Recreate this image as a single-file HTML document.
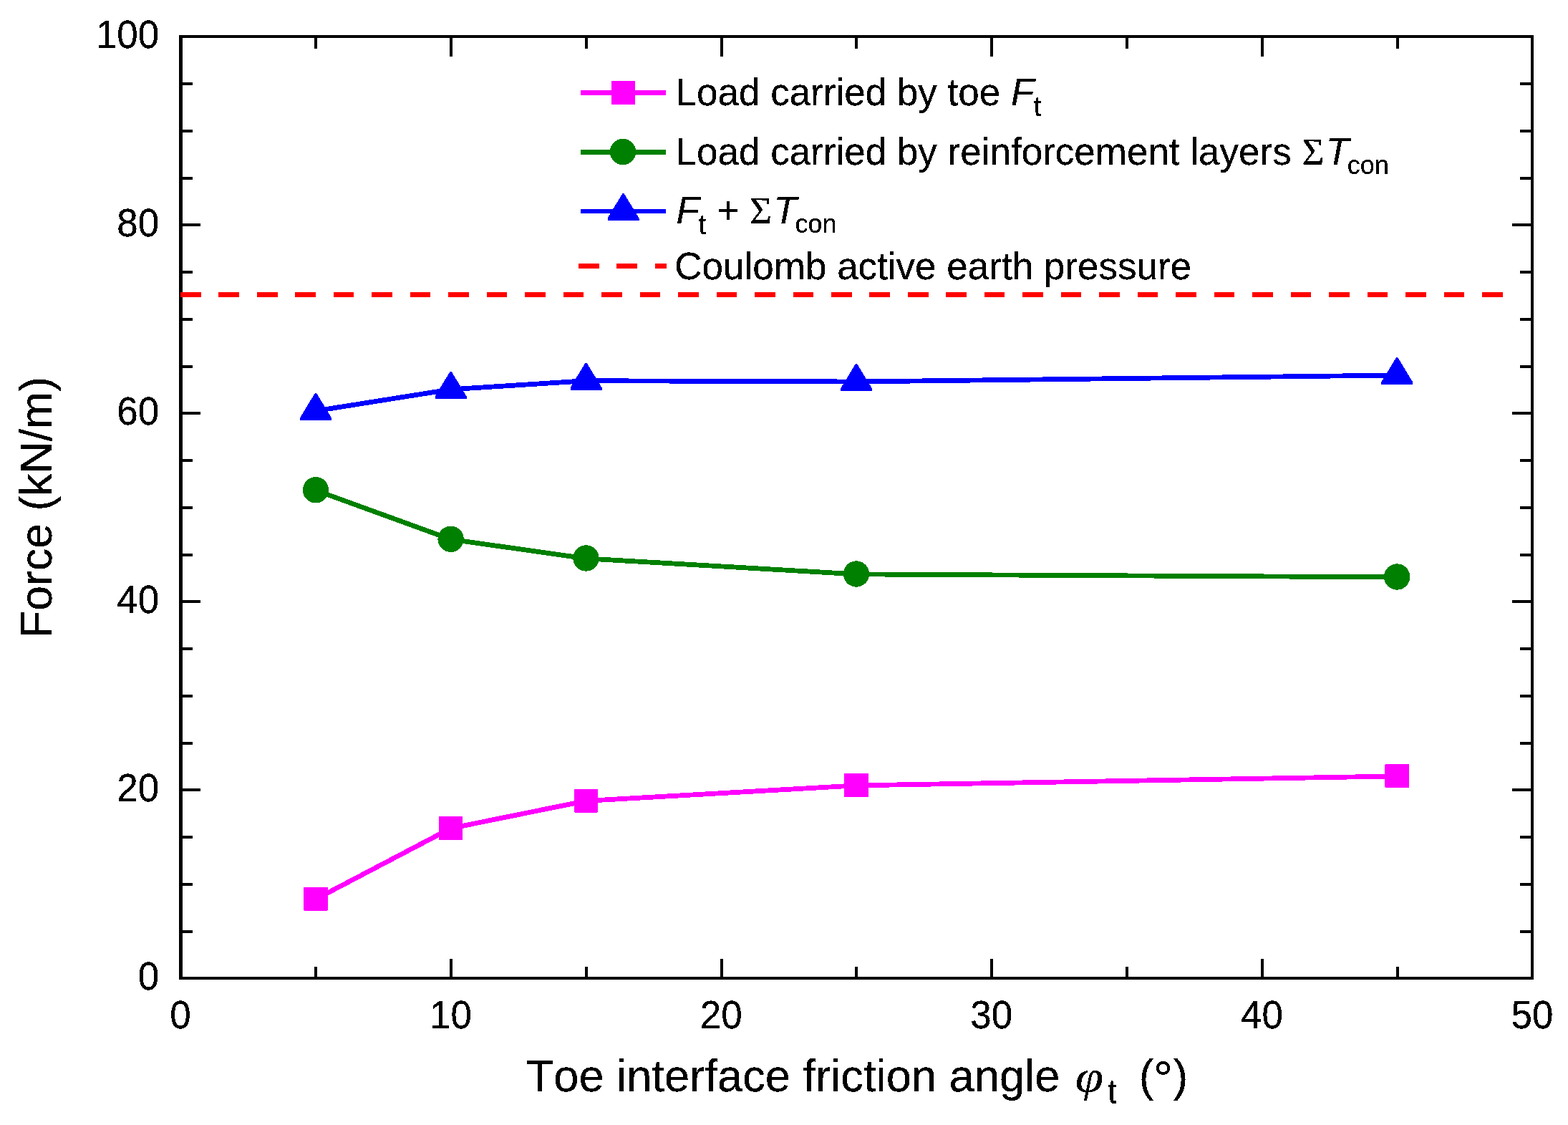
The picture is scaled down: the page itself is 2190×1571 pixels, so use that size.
<!DOCTYPE html>
<html lang="en">
<head>
<meta charset="utf-8">
<title>Force vs toe interface friction angle</title>
<style>
html,body{margin:0;padding:0;background:#fff;}
body{width:2190px;height:1571px;}
svg{display:block;}
text{font-family:"Liberation Sans",Arial,Helvetica,sans-serif;fill:#000;font-kerning:none;font-variant-ligatures:none;}
.tk{font-size:53px;}
.ti{font-size:63px;}
.lg{font-size:53px;}
.it{font-style:italic;}
.sy{font-family:"Liberation Serif","DejaVu Serif",serif;}
</style>
</head>
<body>
<svg width="2190" height="1571" viewBox="0 0 2190 1571">
<defs><filter id="bin" filterUnits="userSpaceOnUse" x="0" y="0" width="2190" height="1571" color-interpolation-filters="sRGB"><feComponentTransfer><feFuncA type="discrete" tableValues="0 1 1"/></feComponentTransfer></filter></defs>
<rect x="0" y="0" width="2190" height="1571" fill="#ffffff"/>

<g shape-rendering="crispEdges" fill="#000">
<rect x="250" y="49" width="1892" height="4"/>
<rect x="250" y="1364" width="1892" height="4"/>
<rect x="250" y="49" width="5" height="1319"/>
<rect x="2138" y="49" width="4" height="1319"/>
<rect x="254" y="1299" width="15" height="4"/>
<rect x="2123" y="1299" width="15" height="4"/>
<rect x="254" y="1233" width="15" height="4"/>
<rect x="2123" y="1233" width="15" height="4"/>
<rect x="254" y="1167" width="15" height="4"/>
<rect x="2123" y="1167" width="15" height="4"/>
<rect x="254" y="1101" width="26" height="4"/>
<rect x="2112" y="1101" width="26" height="4"/>
<rect x="254" y="1036" width="15" height="4"/>
<rect x="2123" y="1036" width="15" height="4"/>
<rect x="254" y="970" width="15" height="4"/>
<rect x="2123" y="970" width="15" height="4"/>
<rect x="254" y="904" width="15" height="4"/>
<rect x="2123" y="904" width="15" height="4"/>
<rect x="254" y="838" width="26" height="4"/>
<rect x="2112" y="838" width="26" height="4"/>
<rect x="254" y="773" width="15" height="4"/>
<rect x="2123" y="773" width="15" height="4"/>
<rect x="254" y="707" width="15" height="4"/>
<rect x="2123" y="707" width="15" height="4"/>
<rect x="254" y="641" width="15" height="4"/>
<rect x="2123" y="641" width="15" height="4"/>
<rect x="254" y="575" width="26" height="4"/>
<rect x="2112" y="575" width="26" height="4"/>
<rect x="254" y="510" width="15" height="4"/>
<rect x="2123" y="510" width="15" height="4"/>
<rect x="254" y="444" width="15" height="4"/>
<rect x="2123" y="444" width="15" height="4"/>
<rect x="254" y="378" width="15" height="4"/>
<rect x="2123" y="378" width="15" height="4"/>
<rect x="254" y="312" width="26" height="4"/>
<rect x="2112" y="312" width="26" height="4"/>
<rect x="254" y="247" width="15" height="4"/>
<rect x="2123" y="247" width="15" height="4"/>
<rect x="254" y="181" width="15" height="4"/>
<rect x="2123" y="181" width="15" height="4"/>
<rect x="254" y="115" width="15" height="4"/>
<rect x="2123" y="115" width="15" height="4"/>
<rect x="439" y="53" width="4" height="15"/>
<rect x="439" y="1350" width="4" height="14"/>
<rect x="628" y="53" width="4" height="26"/>
<rect x="628" y="1339" width="4" height="25"/>
<rect x="817" y="53" width="4" height="15"/>
<rect x="817" y="1350" width="4" height="14"/>
<rect x="1006" y="53" width="4" height="26"/>
<rect x="1006" y="1339" width="4" height="25"/>
<rect x="1194" y="53" width="4" height="15"/>
<rect x="1194" y="1350" width="4" height="14"/>
<rect x="1383" y="53" width="4" height="26"/>
<rect x="1383" y="1339" width="4" height="25"/>
<rect x="1572" y="53" width="4" height="15"/>
<rect x="1572" y="1350" width="4" height="14"/>
<rect x="1761" y="53" width="4" height="26"/>
<rect x="1761" y="1339" width="4" height="25"/>
<rect x="1950" y="53" width="4" height="15"/>
<rect x="1950" y="1350" width="4" height="14"/>
</g>
<g filter="url(#bin)">
<g class="tk">
<text transform="translate(222.3,1381.6) scale(1,1.03)" text-anchor="end">0</text>
<text transform="translate(222.3,1118.6) scale(1,1.03)" text-anchor="end">20</text>
<text transform="translate(222.3,855.6) scale(1,1.03)" text-anchor="end">40</text>
<text transform="translate(222.3,592.6) scale(1,1.03)" text-anchor="end">60</text>
<text transform="translate(222.3,329.6) scale(1,1.03)" text-anchor="end">80</text>
<text transform="translate(222.3,66.6) scale(1,1.03)" text-anchor="end">100</text>
<text transform="translate(252.0,1435.6) scale(1,1.03)" text-anchor="middle">0</text>
<text transform="translate(629.6,1435.6) scale(1,1.03)" text-anchor="middle">10</text>
<text transform="translate(1007.2,1435.6) scale(1,1.03)" text-anchor="middle">20</text>
<text transform="translate(1384.8,1435.6) scale(1,1.03)" text-anchor="middle">30</text>
<text transform="translate(1762.4,1435.6) scale(1,1.03)" text-anchor="middle">40</text>
<text transform="translate(2140.0,1435.6) scale(1,1.03)" text-anchor="middle">50</text>
</g>
<text class="ti" style="font-size:62.6px" transform="translate(71.8,891) rotate(-90)" x="0" y="0">Force (kN/m)</text>
<text class="ti" style="font-size:63.3px" x="734.6" y="1524.2" xml:space="preserve">Toe interface friction angle</text>
<text class="sy it" style="font-size:61.35px" transform="translate(1501.7,1524) scale(1.157,1)">φ</text>
<text style="font-size:44.3px" transform="translate(1547.2,1540.8) scale(1,1.08)">t</text>
<text class="ti" style="font-size:62.3px" y="1524"><tspan x="1590.8">(</tspan><tspan x="1610.7" dy="6.2" style="font-size:69px">°</tspan><tspan x="1638.4" dy="-6.2">)</tspan></text>
</g>
<line x1="252" y1="411.5" x2="2100" y2="411.5" stroke="#ff0000" stroke-width="7" stroke-dasharray="28.6 24.87" shape-rendering="crispEdges"/>
<g shape-rendering="crispEdges">
<polyline points="441.0,1255.6 629.6,1156.7 818.5,1118.4 1196.0,1096.9 1951.2,1083.9" fill="none" stroke="#ff00ff" stroke-width="6.8" stroke-linejoin="round"/>
<rect x="424.2" y="1238.7" width="33.6" height="33" rx="1.2" fill="#ff00ff"/>
<rect x="612.8" y="1139.8" width="33.6" height="33" rx="1.2" fill="#ff00ff"/>
<rect x="801.7" y="1101.5" width="33.6" height="33" rx="1.2" fill="#ff00ff"/>
<rect x="1179.2" y="1080.0" width="33.6" height="33" rx="1.2" fill="#ff00ff"/>
<rect x="1934.4" y="1067.0" width="33.6" height="33" rx="1.2" fill="#ff00ff"/>
<polyline points="441.0,684.7 629.6,753.2 818.5,779.9 1196.0,801.9 1951.2,805.9" fill="none" stroke="#008000" stroke-width="6.8" stroke-linejoin="round"/>
<circle cx="441.0" cy="684.3" r="18.2" fill="#008000"/>
<circle cx="629.6" cy="752.8" r="18.2" fill="#008000"/>
<circle cx="818.5" cy="779.5" r="18.2" fill="#008000"/>
<circle cx="1196.0" cy="801.5" r="18.2" fill="#008000"/>
<circle cx="1951.2" cy="805.5" r="18.2" fill="#008000"/>
<polyline points="441.0,573.8 629.6,543.8 818.5,531.7 1196.0,533.0 1951.2,524.0" fill="none" stroke="#0000ff" stroke-width="6.8" stroke-linejoin="round"/>
<polygon points="440.0,548.8 442.0,548.8 463.0,583.4 463.0,586.8 419.0,586.8 419.0,583.4" fill="#0000ff"/>
<polygon points="628.6,518.8 630.6,518.8 651.6,553.4 651.6,556.8 607.6,556.8 607.6,553.4" fill="#0000ff"/>
<polygon points="817.5,506.7 819.5,506.7 840.5,541.3 840.5,544.7 796.5,544.7 796.5,541.3" fill="#0000ff"/>
<polygon points="1195.0,508.0 1197.0,508.0 1218.0,542.6 1218.0,546.0 1174.0,546.0 1174.0,542.6" fill="#0000ff"/>
<polygon points="1950.2,499.0 1952.2,499.0 1973.2,533.6 1973.2,537.0 1929.2,537.0 1929.2,533.6" fill="#0000ff"/>
</g>
<g shape-rendering="crispEdges">
<rect x="811" y="126" width="119" height="7" fill="#ff00ff"/>
<rect x="811" y="209" width="119" height="7" fill="#008000"/>
<rect x="811" y="292" width="119" height="6" fill="#0000ff"/>
<line x1="808" y1="371.5" x2="931" y2="371.5" stroke="#ff0000" stroke-width="7" stroke-dasharray="28.6 24.87"/>
</g>
<g shape-rendering="crispEdges">
<rect x="853.7" y="113.0" width="33.6" height="33" rx="1.2" fill="#ff00ff"/>
<circle cx="870.0" cy="212.0" r="18.2" fill="#008000"/>
<polygon points="869.5,270.0 871.5,270.0 892.5,304.6 892.5,308.0 848.5,308.0 848.5,304.6" fill="#0000ff"/>
</g>
<g class="lg" filter="url(#bin)">
<text x="943.5" y="146.8" xml:space="preserve">Load carried by toe <tspan class="it">F</tspan><tspan font-size="38" dy="14.8" dx="-0.5">t</tspan></text>
<text x="943.5" y="229.8" xml:space="preserve">Load carried by reinforcement layers <tspan class="sy">Σ</tspan><tspan class="it" dx="2.4">T</tspan><tspan font-size="36" dy="13.6" dx="-2.4">con</tspan></text>
<text x="944.5" y="311.8" xml:space="preserve"><tspan class="it">F</tspan><tspan font-size="38" dy="14.8" dx="-1.5">t</tspan><tspan dy="-14.8" dx="1"> + </tspan><tspan class="sy">Σ</tspan><tspan class="it" dx="2.4">T</tspan><tspan font-size="36" dy="13.6" dx="-2.4">con</tspan></text>
<text x="942.3" y="389.5">Coulomb active earth pressure</text>
</g>
</svg>
</body>
</html>
